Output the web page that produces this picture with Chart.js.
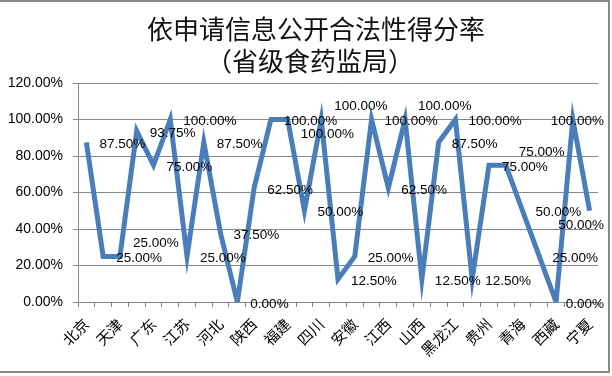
<!DOCTYPE html>
<html><head><meta charset="utf-8">
<script src="https://cdn.jsdelivr.net/npm/chart.js@4.4.0/dist/chart.umd.min.js"></script>
<style>html,body{margin:0;padding:0;background:#fff}#wrap{width:612px;height:376px;position:relative}</style>
</head><body><div id="wrap"><canvas id="c" width="612" height="376"></canvas></div>
<script>
const titleLines = ['依申请信息公开合法性得分率', '（省级食药监局）'];
const provinces = ['北京','上海','天津','浙江','广东','山东','江苏','河南','河北','湖北','陕西','湖南','福建','广西','四川','海南','安徽','重庆','江西','云南','山西','甘肃','黑龙江','新疆','贵州','内蒙古','青海','吉林','西藏','辽宁','宁夏'];
const scores = [87.5,25,25,93.75,75,100,25,87.5,37.5,0,62.5,100,100,50,100,12.5,25,100,62.5,100,12.5,87.5,100,12.5,75,75,50,25,0,100,50];
const yTicks = [0,20,40,60,80,100,120];
const raisedLabels = [2,14,19,25];
const loweredLabels = [12,30];

const framePlugin = {
  id: 'frame',
  beforeDraw(chart) {
    const ctx = chart.ctx;
    ctx.save(); ctx.fillStyle = '#fff'; ctx.fillRect(0, 0, chart.width, chart.height); ctx.restore();
  },
  afterDraw(chart) {
    const ctx = chart.ctx;
    ctx.save();
    ctx.strokeStyle = '#8a8a8a'; ctx.lineWidth = 2;
    ctx.beginPath();
    ctx.moveTo(0, 1); ctx.lineTo(609, 1); ctx.lineTo(609, 372); ctx.lineTo(0, 372);
    ctx.stroke();
    ctx.fillStyle = '#111';
    ctx.textAlign = 'center'; ctx.textBaseline = 'middle';
    ctx.font = '26px "Noto Sans CJK SC", sans-serif';
    ctx.fillText(titleLines[0], 316, 29);
    ctx.fillText(titleLines[1], 310, 61);
    ctx.restore();
  }
};

const labelPlugin = {
  id: 'vals',
  afterDatasetsDraw(chart) {
    const ctx = chart.ctx; const meta = chart.getDatasetMeta(0);
    ctx.save();
    ctx.font = '13.5px "Liberation Sans", Arial, sans-serif';
    ctx.fillStyle = '#000'; ctx.textBaseline = 'middle'; ctx.textAlign = 'left';
    meta.data.forEach((pt, i) => {
      const txt = scores[i].toFixed(2) + '%';
      const w = ctx.measureText(txt).width;
      let x = pt.x + 13, y = pt.y + 2;
      if (raisedLabels.includes(i)) y -= 15;
      if (loweredLabels.includes(i)) y += 13;
      if (x + w > chart.width - 8) x = chart.width - 8 - w;
      ctx.fillText(txt, x, y);
    });
    ctx.restore();
  }
};

new Chart(document.getElementById('c'), {
  type: 'line',
  data: {
    labels: provinces,
    datasets: [{
      data: scores,
      borderColor: '#4A7EBB',
      borderWidth: 5,
      borderJoinStyle: 'miter',
      pointRadius: 0,
      tension: 0,
      fill: false
    }]
  },
  options: {
    responsive: false,
    animation: false,
    devicePixelRatio: 1,
    layout: { padding: { top: 83, right: 14, bottom: 0, left: 0 } },
    plugins: { legend: { display: false }, title: { display: false }, tooltip: { enabled: false } },
    scales: {
      x: {
        offset: true,
        grid: { display: true, drawOnChartArea: false, drawTicks: true, tickLength: 5, color: '#878787', offset: true },
        border: { display: true, color: '#878787', width: 1 },
        ticks: {
          autoSkip: false, minRotation: 45, maxRotation: 45, padding: 8,
          color: '#000', font: { family: '"Noto Sans CJK SC", sans-serif', size: 15 },
          callback: function (v, i) { return i % 2 === 0 ? provinces[i] : ''; }
        },
        afterFit(scale) { scale.height = 74; }
      },
      y: {
        min: 0, max: 120,
        afterBuildTicks(scale) { scale.ticks = yTicks.map(v => ({ value: v })); },
        grid: { color: '#878787', lineWidth: 1, tickLength: 5, drawTicks: true },
        border: { display: true, color: '#878787', width: 1 },
        ticks: {
          padding: 10, color: '#000',
          font: { family: '"Liberation Sans", Arial, sans-serif', size: 14 },
          callback: v => v.toFixed(2) + '%'
        },
        afterFit(scale) { scale.width = 78; }
      }
    }
  },
  plugins: [framePlugin, labelPlugin]
});
</script>
</body></html>
